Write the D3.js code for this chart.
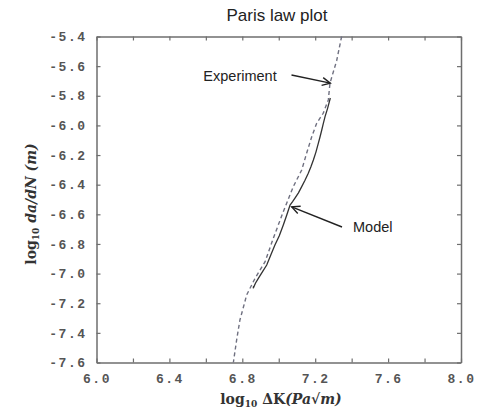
<!DOCTYPE html>
<html><head><meta charset="utf-8">
<script src="https://cdn.jsdelivr.net/npm/d3@7"></script>
<style>
body{margin:0;background:#fff;}
</style></head>
<body>
<svg id="c" width="479" height="413"></svg>
<script>
const title = "Paris law plot";
const xTicks = [6.0,6.2,6.4,6.6,6.8,7.0,7.2,7.4,7.6,7.8,8.0];
const xTickLabels = ["6.0","","6.4","","6.8","","7.2","","7.6","","8.0"];
const yTicks = [-5.4,-5.6,-5.8,-6.0,-6.2,-6.4,-6.6,-6.8,-7.0,-7.2,-7.4,-7.6];
const yTickLabels = ["-5.4","-5.6","-5.8","-6.0","-6.2","-6.4","-6.6","-6.8","-7.0","-7.2","-7.4","-7.6"];

// Experiment (dashed)
const expX = [7.345,7.318,7.281,7.272,7.244,7.208,7.181,7.153,7.126,7.080,7.025,6.970,6.925,6.870,6.824,6.812,6.787,6.769,6.751];
const expY = [-5.40,-5.562,-5.716,-5.828,-5.918,-5.986,-6.076,-6.188,-6.301,-6.413,-6.582,-6.762,-6.920,-7.032,-7.144,-7.20,-7.313,-7.447,-7.60];
// Model (solid)
const modX = [7.283,7.268,7.254,7.244,7.236,7.226,7.217,7.204,7.190,7.176,7.162,7.144,7.126,7.108,7.089,7.076,7.062,7.044,7.025,7.003,6.979,6.958,6.934,6.912,6.888,6.872,6.860,6.862];
const modY = [-5.815,-5.885,-5.941,-5.990,-6.031,-6.080,-6.121,-6.180,-6.233,-6.280,-6.323,-6.370,-6.413,-6.455,-6.490,-6.515,-6.537,-6.605,-6.672,-6.745,-6.807,-6.870,-6.942,-6.985,-7.032,-7.065,-7.099,-7.085];

const svg = d3.select("#c");
const L=96.5, R=461, T=36.5, B=362.5;
const x = d3.scaleLinear().domain([6,8]).range([L,R]);
const y = d3.scaleLinear().domain([-7.6,-5.4]).range([B,T]);
const frameCol = "#6e6e6e";

svg.append("text").attr("x",277).attr("y",21).attr("text-anchor","middle")
  .attr("font-family","Liberation Sans, Arial, sans-serif").attr("font-size",17)
  .attr("fill","#222").text(title);

const fmtX = (d,i)=>xTickLabels[i];
const fmtY = (d,i)=>yTickLabels[i];
const axB = svg.append("g").attr("transform",`translate(0,${B})`)
  .call(d3.axisBottom(x).tickValues(xTicks).tickFormat(fmtX).tickSizeInner(-4).tickSizeOuter(0).tickPadding(11));
const axT = svg.append("g").attr("transform",`translate(0,${T})`)
  .call(d3.axisTop(x).tickValues(xTicks).tickFormat("").tickSizeInner(-4).tickSizeOuter(0));
const axL = svg.append("g").attr("transform",`translate(${L},0)`)
  .call(d3.axisLeft(y).tickValues(yTicks).tickFormat(fmtY).tickSizeInner(-4).tickSizeOuter(0).tickPadding(10));
const axR = svg.append("g").attr("transform",`translate(${R},0)`)
  .call(d3.axisRight(y).tickValues(yTicks).tickFormat("").tickSizeInner(-4).tickSizeOuter(0));
[axB,axT,axL,axR].forEach(a=>{
  a.select(".domain").attr("stroke",frameCol).attr("stroke-width",1.5);
  a.selectAll(".tick line").attr("stroke",frameCol).attr("stroke-width",1.2);
  a.selectAll("text").attr("font-family","Liberation Mono, Courier New, monospace")
    .attr("font-size",13).attr("letter-spacing","1.5px").attr("fill","#555").attr("font-weight","bold");
});

const line = d3.line().x(d=>x(d[0])).y(d=>y(d[1]));
const expData = expX.map((v,i)=>[v,expY[i]]);
const modData = modX.map((v,i)=>[v,modY[i]]);
svg.append("path").datum(expData).attr("d",line).attr("fill","none")
  .attr("stroke","#6f7080").attr("stroke-width",1.4).attr("stroke-dasharray","4,3");
svg.append("path").datum(modData).attr("d",line).attr("fill","none")
  .attr("stroke","#333").attr("stroke-width",1.3);

function arrow(x1,y1,x2,y2){
  svg.append("line").attr("x1",x1).attr("y1",y1).attr("x2",x2).attr("y2",y2)
    .attr("stroke","#222").attr("stroke-width",1.4);
  const a=Math.atan2(y2-y1,x2-x1), h=9, s=0.45;
  const p=[[x2-h*Math.cos(a-s),y2-h*Math.sin(a-s)],[x2,y2],[x2-h*Math.cos(a+s),y2-h*Math.sin(a+s)]];
  svg.append("path").attr("d",d3.line()(p)).attr("fill","none").attr("stroke","#222").attr("stroke-width",1.4);
}
svg.append("text").attr("x",240).attr("y",81).attr("text-anchor","middle")
  .attr("font-family","Liberation Sans, Arial, sans-serif").attr("font-size",14.5).attr("fill","#222").text("Experiment");
arrow(291.5, 75, x(7.283), y(-5.715));
svg.append("text").attr("x",353).attr("y",232)
  .attr("font-family","Liberation Sans, Arial, sans-serif").attr("font-size",14.5).attr("fill","#222").text("Model");
arrow(342, 227, x(7.071), y(-6.55));

const xt = svg.append("text").attr("x",281).attr("y",404).attr("text-anchor","middle")
  .attr("font-family","DejaVu Serif, Liberation Serif, serif").attr("font-weight","bold").attr("font-size",14).attr("fill","#333");
xt.append("tspan").text("log");
xt.append("tspan").attr("font-size",9).attr("dy",3).text("10");
xt.append("tspan").attr("dy",-3).text(" ΔK");
xt.append("tspan").attr("font-style","italic").text("(Pa√m)");

const yt = svg.append("text").attr("transform","translate(36,204) rotate(-90)").attr("text-anchor","middle")
  .attr("font-family","DejaVu Serif, Liberation Serif, serif").attr("font-weight","bold").attr("font-size",14).attr("fill","#333");
yt.append("tspan").text("log");
yt.append("tspan").attr("font-size",9).attr("dy",3).text("10");
yt.append("tspan").attr("dy",-3).attr("font-style","italic").text(" da/dN (m)");
</script>
</body></html>
